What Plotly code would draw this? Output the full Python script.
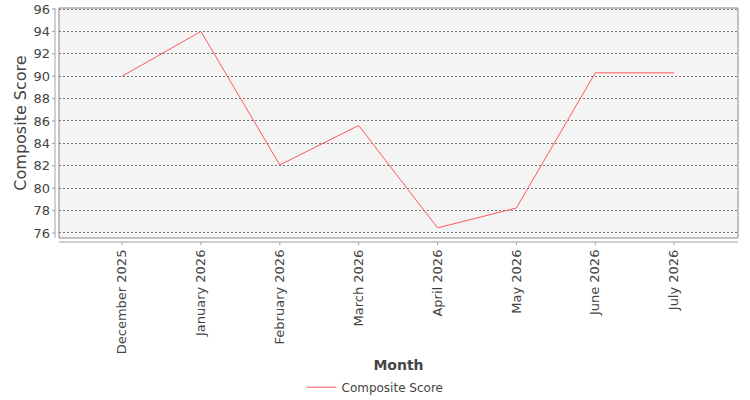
import plotly.graph_objects as go

months = ["December 2025", "January 2026", "February 2026", "March 2026",
          "April 2026", "May 2026", "June 2026", "July 2026"]
scores = [90.0, 94.0, 82.07, 85.6, 76.45, 78.23, 90.3, 90.3]
y_ticks = [76, 78, 80, 82, 84, 86, 88, 90, 92, 94, 96]

FONT = "DejaVu Sans"
TXT = "#444444"
AX = "#a0a0a0"

fig = go.Figure()
fig.add_trace(go.Scatter(
    x=list(range(len(months))), y=scores, mode="lines", name="Composite Score",
    line=dict(color="#ff5a5a", width=1),
))

shapes = []
shapes.append(dict(type="rect", xref="paper", yref="paper", x0=0, x1=1, y0=0, y1=1,
                   line=dict(color="#888888", width=1), layer="above"))
shapes.append(dict(type="line", xref="paper", yref="paper", xsizemode="pixel", xanchor=0,
                   x0=-4, x1=-4, y0=0, y1=1, line=dict(color=AX, width=1)))
shapes.append(dict(type="line", xref="paper", yref="paper", ysizemode="pixel", yanchor=0,
                   y0=-4, y1=-4, x0=0, x1=1, line=dict(color=AX, width=1)))
for i in range(len(months)):
    shapes.append(dict(type="line", xref="x", yref="paper", ysizemode="pixel", yanchor=0,
                       x0=i, x1=i, y0=-4, y1=-7, line=dict(color=AX, width=1)))
for v in y_ticks:
    shapes.append(dict(type="line", xref="paper", yref="y", xsizemode="pixel", xanchor=0,
                       y0=v, y1=v, x0=-4, x1=-7, line=dict(color=AX, width=1)))

fig.update_layout(
    width=750, height=400,
    margin=dict(l=59, r=12, t=8, b=162, autoexpand=False),
    paper_bgcolor="white", plot_bgcolor="#f4f4f4",
    font=dict(family=FONT, size=12, color=TXT),
    showlegend=True,
    legend=dict(orientation="h", x=0.5, xanchor="center", xref="container",
                y=0.032, yanchor="middle", yref="container",
                font=dict(family=FONT, size=12, color=TXT)),
    shapes=shapes,
)
fig.update_xaxes(
    range=[-0.8, 7.81], tickmode="array", tickvals=list(range(len(months))), ticktext=months,
    tickangle=-90, showgrid=False, zeroline=False, showline=False, ticks="",
    ticklabelstandoff=8, automargin=False,
    tickfont=dict(family=FONT, size=13, color=TXT),
    title=dict(text="<b>Month</b>", font=dict(family=FONT, size=14, color=TXT), standoff=12),
)
fig.update_yaxes(
    range=[75.55, 96.09], tickmode="array", tickvals=y_ticks,
    showgrid=True, gridcolor="#777777", gridwidth=0.6, griddash="2px,2px",
    zeroline=False, showline=False, ticks="", ticklabelstandoff=8, automargin=False,
    tickfont=dict(family=FONT, size=13, color=TXT),
    title=dict(text="Composite Score", font=dict(family=FONT, size=16, color=TXT), standoff=2),
)

fig.write_html("out.html")
